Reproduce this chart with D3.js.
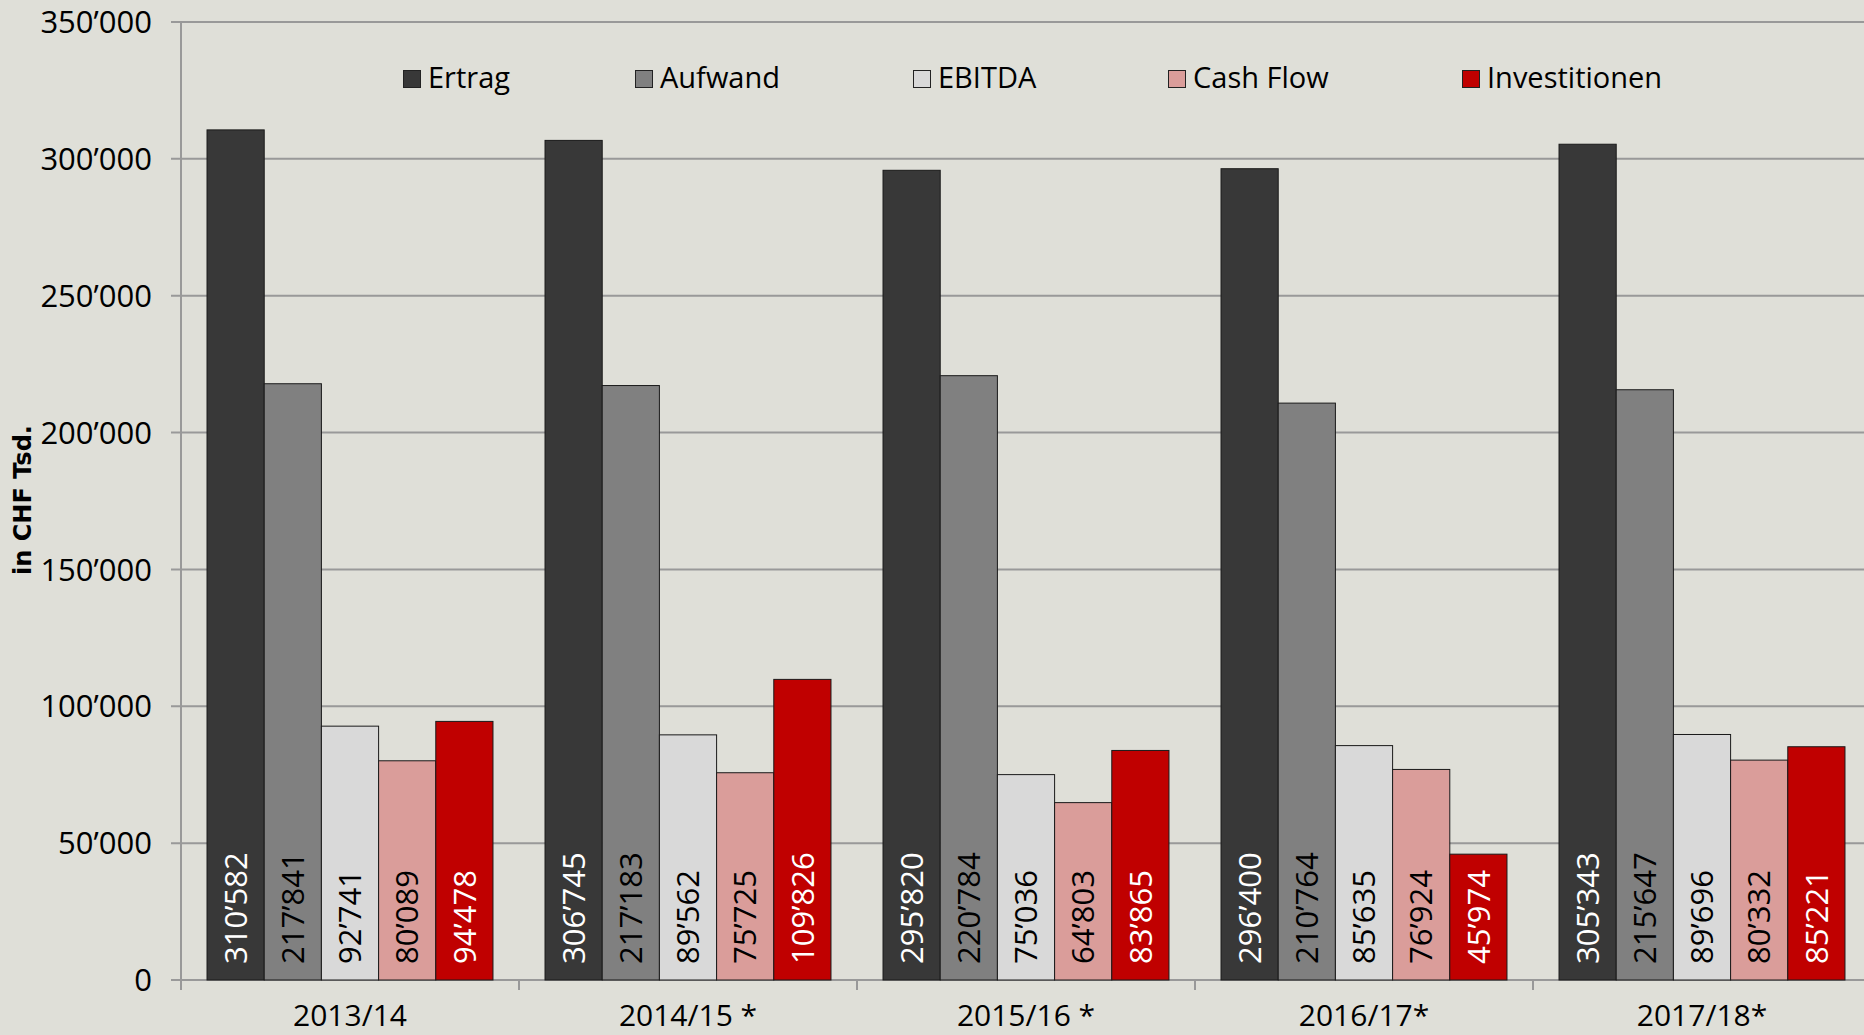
<!DOCTYPE html>
<html>
<head>
<meta charset="utf-8">
<script src="https://cdn.jsdelivr.net/npm/d3@7"></script>
<style>
html,body{margin:0;padding:0;background:#dfdfd8;overflow:hidden;}
svg{display:block;}
</style>
</head>
<body>
<svg id="chart" width="1864" height="1035"></svg>
<script>
const categories = ["2013/14", "2014/15 *", "2015/16 *", "2016/17*", "2017/18*"];
const seriesNames = ["Ertrag", "Aufwand", "EBITDA", "Cash Flow", "Investitionen"];
const ertrag = [310582, 306745, 295820, 296400, 305343];
const aufwand = [217841, 217183, 220784, 210764, 215647];
const ebitda = [92741, 89562, 75036, 85635, 89696];
const cashFlow = [80089, 75725, 64803, 76924, 80332];
const investitionen = [94478, 109826, 83865, 45974, 85221];
const yTicks = [0, 50000, 100000, 150000, 200000, 250000, 300000, 350000];
const seriesColors = ["#383838", "#808080", "#d9d9d9", "#da9d9a", "#c00000"];
const labelColors = ["#ffffff", "#000000", "#000000", "#000000", "#ffffff"];
const yTitle = "in CHF Tsd.";

const seriesValues = [ertrag, aufwand, ebitda, cashFlow, investitionen];

(function () {
const svg = d3.select("#chart");
const W = 1864;
const plotLeft = 181, plotTop = 22, plotBottom = 980, plotRight = 1871;

const loc = d3.formatLocale({decimal: ".", thousands: "\u2019", grouping: [3], currency: ["", ""]});
const fmt = loc.format(",d");

const x0 = d3.scaleBand().domain(categories).range([plotLeft, plotRight]).padding(0);
const x1 = d3.scaleBand().domain(seriesNames).range([0, x0.bandwidth()]).paddingInner(0).paddingOuter(0.455);
const y = d3.scaleLinear().domain([0, 350000]).range([plotBottom, plotTop]);

const font = "'Open Sans', sans-serif";

// gridlines
svg.append("g").selectAll("line").data(yTicks).join("line")
  .attr("x1", plotLeft - 10).attr("x2", W)
  .attr("y1", d => y(d)).attr("y2", d => y(d))
  .attr("stroke", "#999999").attr("stroke-width", 2);

// y axis line
svg.append("line").attr("x1", plotLeft).attr("x2", plotLeft).attr("y1", y(350000)).attr("y2", plotBottom + 10)
  .attr("stroke", "#999999").attr("stroke-width", 2);

// x ticks at category boundaries
const boundaries = categories.map(c => x0(c)).concat([x0(categories[categories.length-1]) + x0.bandwidth()]);
svg.append("g").selectAll("line").data(boundaries).join("line")
  .attr("x1", d => d).attr("x2", d => d).attr("y1", plotBottom).attr("y2", plotBottom + 10)
  .attr("stroke", "#999999").attr("stroke-width", 2);

// y tick labels
svg.append("g").selectAll("text").data(yTicks).join("text")
  .attr("x", 152).attr("y", d => y(d)).attr("dy", "0.36em")
  .attr("text-anchor", "end").attr("font-family", font).attr("font-size", 31)
  .attr("fill", "#000").text(d => fmt(d));

// x labels
svg.append("g").selectAll("text").data(categories).join("text")
  .attr("x", d => x0(d) + x0.bandwidth() / 2).attr("y", 1026)
  .attr("text-anchor", "middle").attr("font-family", font).attr("font-size", 30)
  .attr("fill", "#000").text(d => d);

// bars
const groups = svg.append("g").selectAll("g").data(categories).join("g")
  .attr("transform", d => `translate(${x0(d)},0)`);

groups.each(function(cat, ci) {
  const g = d3.select(this);
  const data = seriesNames.map((s, si) => ({s, si, v: seriesValues[si][ci]}));
  g.selectAll("rect").data(data).join("rect")
    .attr("x", d => x1(d.s)).attr("width", x1.bandwidth())
    .attr("y", d => y(d.v)).attr("height", d => plotBottom - y(d.v))
    .attr("fill", d => seriesColors[d.si]).attr("stroke", "#1a1a1a").attr("stroke-width", 1);
  g.selectAll("text").data(data).join("text")
    .attr("transform", d => `translate(${x1(d.s) + x1.bandwidth() / 2},${plotBottom - 16}) rotate(-90)`)
    .attr("dy", "0.36em").attr("text-anchor", "start")
    .attr("font-family", font).attr("font-size", 31)
    .attr("fill", d => labelColors[d.si]).text(d => fmt(d.v));
});

// legend
const legendX = [403, 635, 913, 1168, 1462];
const leg = svg.append("g").selectAll("g").data(seriesNames).join("g")
  .attr("transform", (d, i) => `translate(${legendX[i]},70)`);
leg.append("rect").attr("width", 17).attr("height", 17)
  .attr("fill", (d, i) => seriesColors[i]).attr("stroke", "#222").attr("stroke-width", 1)
  .attr("x", 0.5).attr("y", 0.5);
leg.append("text").attr("x", 25).attr("y", 17.5)
  .attr("font-family", font).attr("font-size", 29).attr("fill", "#000").text(d => d);

// y title
svg.append("text")
  .attr("transform", `translate(22,500) rotate(-90)`)
  .attr("dy", "0.36em").attr("text-anchor", "middle")
  .attr("font-family", "'DejaVu Sans', sans-serif").attr("font-weight", "bold").attr("font-size", 24)
  .attr("fill", "#000").text(yTitle);
})();
</script>
</body>
</html>
